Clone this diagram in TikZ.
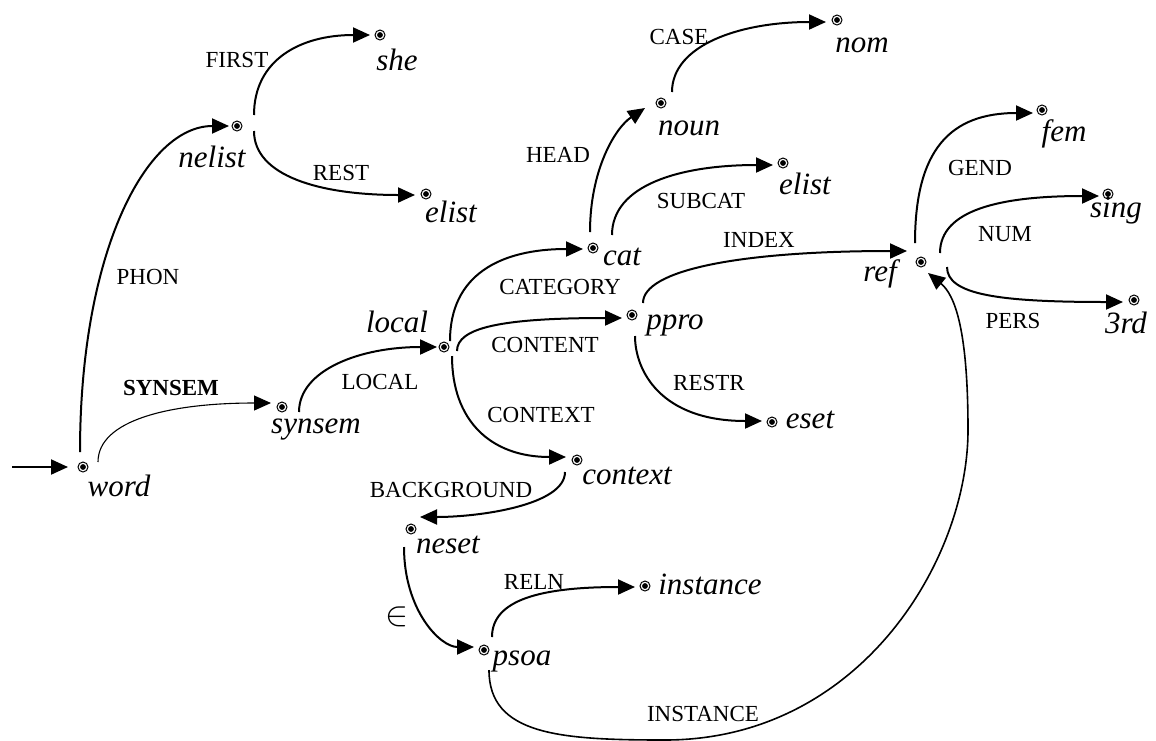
\documentclass[tikz,border=0pt]{standalone}
\usepackage{fontspec}
\setmainfont{Liberation Serif}
\usetikzlibrary{arrows.meta}
\tikzset{
  dotn/.style={circle, draw, line width=0.5pt, minimum size=5pt, inner sep=0pt,
    path picture={\fill (path picture bounding box.center) circle (1.45pt);}},
  feat/.style={font=\fontsize{11.5}{13}\selectfont, inner sep=0pt},
  typ/.style={font=\fontsize{15.5}{18}\selectfont\itshape, inner sep=0pt},
  farrow/.style={line width=1pt, -{Triangle[length=8.5pt,width=7.5pt]}},
  thinarrow/.style={line width=0.55pt, -{Triangle[length=8.5pt,width=7.5pt]}},
}
\begin{document}
\begin{tikzpicture}[x=0.5pt, y=-0.5pt]
\useasboundingbox (0,0) rectangle (1156,740);
% dots
\node[dotn] (word) at (83,467) {};
\node[dotn] (synsem) at (282,407) {};
\node[dotn] (nelist) at (237,126) {};
\node[dotn] (she) at (380,35) {};
\node[dotn] (elistA) at (426,194) {};
\node[dotn] (local) at (444,347) {};
\node[dotn] (cat) at (593,248) {};
\node[dotn] (noun) at (661,103) {};
\node[dotn] (nom) at (837,20) {};
\node[dotn] (elistB) at (783,163) {};
\node[dotn] (ppro) at (632,315) {};
\node[dotn] (ref) at (921,262) {};
\node[dotn] (fem) at (1042,110) {};
\node[dotn] (sing) at (1108,194) {};
\node[dotn] (third) at (1134,300) {};
\node[dotn] (eset) at (772,422) {};
\node[dotn] (context) at (577,460) {};
\node[dotn] (neset) at (411,529) {};
\node[dotn] (instance) at (645,586) {};
\node[dotn] (psoa) at (484,650) {};
% type labels
\node[typ] (lword) at (119,486) {word};
\node[typ] (lsynsem) at (316,430) {synsem};
\node[typ] (lnelist) at (212,157) {nelist};
\node[typ] (lshe) at (397,60) {she};
\node[typ] (lelistA) at (451,212) {elist};
\node[typ] (llocal) at (397,322) {local};
\node[typ] (lcat) at (622,257) {cat};
\node[typ] (lnoun) at (689,128) {noun};
\node[typ] (lnom) at (862,45) {nom};
\node[typ] (lelistB) at (805,184) {elist};
\node[typ] (lppro) at (675,325) {ppro};
\node[typ] (lref) at (880,274) {ref};
\node[typ] (lfem) at (1064,134) {fem};
\node[typ] (lsing) at (1116,211) {sing};
\node[typ] (lthird) at (1126,323) {3rd};
\node[typ] (leset) at (810,420) {eset};
\node[typ] (lcontext) at (627,476) {context};
\node[typ] (lneset) at (448,545) {neset};
\node[typ] (linstance) at (710,584) {instance};
\node[typ] (lpsoa) at (522,661) {psoa};
% feature labels
\node[feat] (fFIRST) at (237,60) {FIRST};
\node[feat] (fREST) at (341,173) {REST};
\node[feat] (fPHON) at (148,277) {PHON};
\node[feat, font=\fontsize{11.5}{13}\selectfont\bfseries] (fSYNSEM) at (171,388) {SYNSEM};
\node[feat] (fLOCAL) at (380,382) {LOCAL};
\node[feat] (fCATEGORY) at (560,287) {CATEGORY};
\node[feat] (fCONTENT) at (545,345) {CONTENT};
\node[feat] (fCONTEXT) at (541,415) {CONTEXT};
\node[feat] (fHEAD) at (558,155) {HEAD};
\node[feat] (fSUBCAT) at (701,201) {SUBCAT};
\node[feat] (fCASE) at (679,37) {CASE};
\node[feat] (fINDEX) at (759,240) {INDEX};
\node[feat] (fRESTR) at (709,383) {RESTR};
\node[feat] (fGEND) at (980,168) {GEND};
\node[feat] (fNUM) at (1005,234) {NUM};
\node[feat] (fPERS) at (1013,321) {PERS};
\node[feat] (fBACKGROUND) at (451,490) {BACKGROUND};
\node[feat] (fRELN) at (534,582) {RELN};
\node[feat] (fINSTANCE) at (703,714) {INSTANCE};
\node[feat, font=\fontsize{16}{18}\selectfont] (fIN) at (397,617) {$\in$};
% connectors
\coordinate (start) at (12,467);
\draw[farrow] (start) -- ([shift={(-15,0)}]word.center);
\draw[farrow] ([shift={(-3,-15)}]word.center) .. controls +(0,-200) and +(-83,0) .. ([shift={(-8,0)}]nelist.center);
\draw[thinarrow] ([shift={(15,-5)}]word.center) .. controls +(0,-42) and +(-101,0) .. ([shift={(-11,-4)}]synsem.center);
\draw[farrow] ([shift={(17,-11)}]nelist.center) .. controls +(0,-55) and +(-70,0) .. ([shift={(-10,0)}]she.center);
\draw[farrow] ([shift={(17,5)}]nelist.center) .. controls +(0,45) and +(-95,0) .. ([shift={(-11,1)}]elistA.center);
\draw[farrow] ([shift={(17,5)}]synsem.center) .. controls +(0,-42) and +(-77,0) .. ([shift={(-7,0)}]local.center);
\draw[farrow] ([shift={(6,-6)}]local.center) .. controls +(0,-66) and +(-83,0) .. ([shift={(-10,1)}]cat.center);
\draw[farrow] ([shift={(13,4)}]local.center) .. controls +(0,-23) and +(-122,0) .. ([shift={(-10,3)}]ppro.center);
\draw[farrow] ([shift={(8,9)}]local.center) .. controls +(0,64) and +(-76,0) .. ([shift={(-11,-3)}]context.center);
\draw[farrow] ([shift={(-3,-16)}]cat.center) .. controls +(0,-62) and +(-30,20) .. ([shift={(-16,5)}]noun.center);
\draw[farrow] ([shift={(19,-13)}]cat.center) .. controls +(0,-50) and +(-93,0) .. ([shift={(-10,2)}]elistB.center);
\draw[farrow] ([shift={(11,-11)}]noun.center) .. controls +(0,-47) and +(-86,0) .. ([shift={(-11,2)}]nom.center);
\draw[farrow] ([shift={(11,-12)}]ppro.center) .. controls +(0,-33) and +(-167,0) .. ([shift={(-14,-11)}]ref.center);
\draw[farrow] ([shift={(3,21)}]ppro.center) .. controls +(0,34) and +(-102,0) .. ([shift={(-10,-1)}]eset.center);
\draw[farrow] ([shift={(-12,12)}]context.center) .. controls +(0,33) and +(60,0) .. ([shift={(9,-12)}]neset.center);
\draw[farrow] ([shift={(-7,18)}]neset.center) .. controls +(0,63) and +(-34,0) .. ([shift={(-10,-3)}]psoa.center);
\draw[farrow] ([shift={(8,-13)}]psoa.center) .. controls +(0,-37) and +(-95,0) .. ([shift={(-10,1)}]instance.center);
\coordinate (ib) at (665,740);
\coordinate (ir) at (968,430);
\draw[line width=0.8pt, -{Triangle[length=8.5pt,width=7.5pt]}] ([shift={(5,20)}]psoa.center) .. controls +(0,65) and +(-105,0) .. (ib)
  .. controls +(195,0) and +(0,130) .. (ir)
  .. controls +(0,-100) and +(27,22) .. ([shift={(7,11)}]ref.center);
\draw[farrow] ([shift={(-6,-19)}]ref.center) .. controls +(0,-93) and +(-83,0) .. ([shift={(-9,3)}]fem.center);
\draw[farrow] ([shift={(19,-9)}]ref.center) .. controls +(0,-43) and +(-99,0) .. ([shift={(-9,2)}]sing.center);
\draw[farrow] ([shift={(26,5)}]ref.center) .. controls +(0,28) and +(-123,0) .. ([shift={(-11,2)}]third.center);
\end{tikzpicture}
\end{document}
